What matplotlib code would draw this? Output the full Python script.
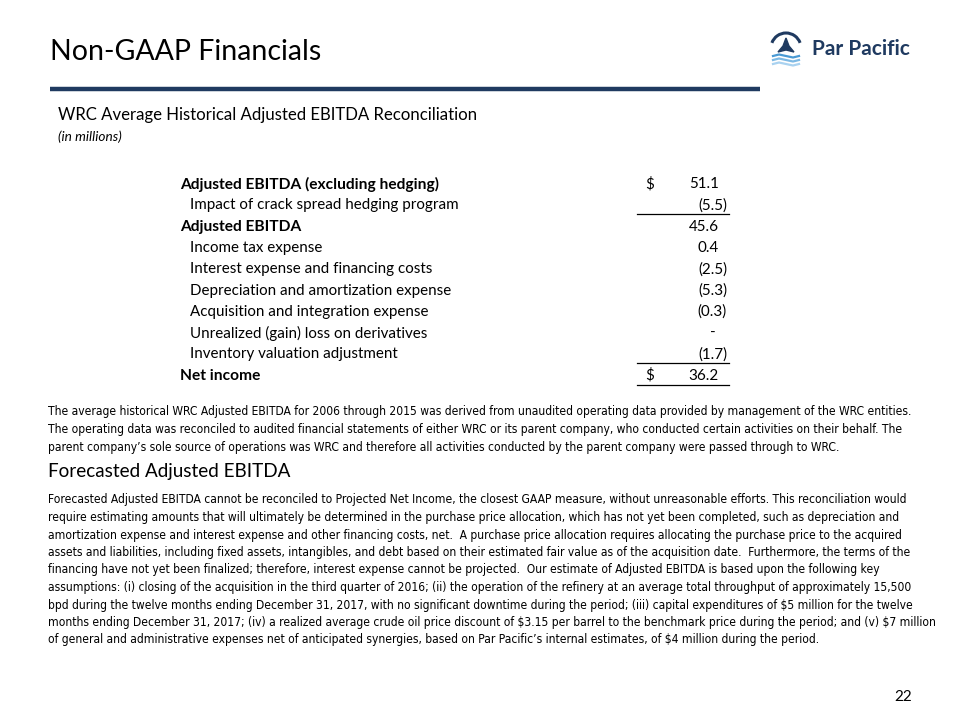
import matplotlib
matplotlib.use("Agg")
import matplotlib.pyplot as plt
import numpy as np
from matplotlib import font_manager
from matplotlib.font_manager import FontProperties
from matplotlib.patches import Arc, Polygon

# --- data ---
row_labels = [
    "Adjusted EBITDA (excluding hedging)",
    "Impact of crack spread hedging program",
    "Adjusted EBITDA",
    "Income tax expense",
    "Interest expense and financing costs",
    "Depreciation and amortization expense",
    "Acquisition and integration expense",
    "Unrealized (gain) loss on derivatives",
    "Inventory valuation adjustment",
    "Net income",
]
row_values = [51.1, -5.5, 45.6, 0.4, -2.5, -5.3, -0.3, None, -1.7, 36.2]
row_bold = [True, False, True, False, False, False, False, False, False, True]
row_dollar = [True, False, False, False, False, False, False, False, False, True]
row_rule_below = [False, True, False, False, False, False, False, False, True, True]

para1 = [
    "The average historical WRC Adjusted EBITDA for 2006 through 2015 was derived from unaudited operating data provided by management of the WRC entities.",
    "The operating data was reconciled to audited financial statements of either WRC or its parent company, who conducted certain activities on their behalf. The",
    "parent company\u2019s sole source of operations was WRC and therefore all activities conducted by the parent company were passed through to WRC.",
]
para1_ends = [912, 898, 835]

para2 = [
    "Forecasted Adjusted EBITDA cannot be reconciled to Projected Net Income, the closest GAAP measure, without unreasonable efforts. This reconciliation would",
    "require estimating amounts that will ultimately be determined in the purchase price allocation, which has not yet been completed, such as depreciation and",
    "amortization expense and interest expense and other financing costs, net.  A purchase price allocation requires allocating the purchase price to the acquired",
    "assets and liabilities, including fixed assets, intangibles, and debt based on their estimated fair value as of the acquisition date.  Furthermore, the terms of the",
    "financing have not yet been finalized; therefore, interest expense cannot be projected.  Our estimate of Adjusted EBITDA is based upon the following key",
    "assumptions: (i) closing of the acquisition in the third quarter of 2016; (ii) the operation of the refinery at an average total throughput of approximately 15,500",
    "bpd during the twelve months ending December 31, 2017, with no significant downtime during the period; (iii) capital expenditures of $5 million for the twelve",
    "months ending December 31, 2017; (iv) a realized average crude oil price discount of $3.15 per barrel to the benchmark price during the period; and (v) $7 million",
    "of general and administrative expenses net of anticipated synergies, based on Par Pacific\u2019s internal estimates, of $4 million during the period.",
]
para2_ends = [908, 899, 877, 897, 888, 910, 912, 925, 782]

# --- fonts ---
plt.rcParams["text.parse_math"] = False
head_font = "Lato"
plt.rcParams["font.family"] = [head_font, "DejaVu Sans"]

body_fp = None
files = {f.fname.split("/")[-1]: f.fname for f in font_manager.fontManager.ttflist}
for cand in ["LiberationSansNarrow-Regular.ttf", "DejaVuSansCondensed.ttf"]:
    if cand in files:
        body_fp = FontProperties(fname=files[cand])
        break
if body_fp is None:
    body_fp = FontProperties(family="Lato")

navy = "#1F3A60"
fig = plt.figure(figsize=(9.6, 7.2), dpi=100)
ax = fig.add_axes([0, 0, 1, 1])
ax.set_xlim(0, 960)
ax.set_ylim(720, 0)
ax.axis("off")
renderer = fig.canvas.get_renderer()


def fit(txt, x, y, right, size=12, ha="left", **kw):
    t = ax.text(x, y, txt, fontsize=size, ha=ha, va="center", **kw)
    w = t.get_window_extent(renderer).width
    t.set_fontsize(size * (right - x) / w)
    return t


def paragraph(lines, ends, x, ytop, step):
    ts = [fit(l, x, ytop + i * step, ends[i], fontproperties=body_fp.copy())
          for i, l in enumerate(lines)]
    s = np.median([t.get_fontsize() for t in ts])
    for t in ts:
        t.set_fontsize(s)


def fmt(v):
    if v is None:
        return "-"
    if v < 0:
        return "(%.1f)" % -v
    return "%.1f" % v


# header
fit("Non-GAAP Financials", 50, 52, 320, family=head_font)
ax.plot([50, 760], [89, 89], color=navy, lw=3.2, solid_capstyle="butt")

# logo
ax.add_patch(Arc((786, 48), 30, 30, theta1=200, theta2=340, color=navy, lw=2.2))
ax.add_patch(Polygon([[778, 52], [783, 46], [786, 38], [789, 46], [794, 52], [786, 50]],
                     closed=True, color=navy))
for dy, c in [(56, "#4A9AD4"), (60, "#7DB9E4"), (64, "#A9D2F0")]:
    ax.plot([773, 779, 786, 793, 799], [dy, dy - 1.5, dy, dy + 1.5, dy], color=c, lw=1.6)
fit("Par Pacific", 812, 49, 910, family=head_font, fontweight="bold", color=navy)

# subtitle
fit("WRC Average Historical Adjusted EBITDA Reconciliation", 58, 115, 475, family=head_font)
fit("(in millions)", 58, 137, 121, family=head_font, style="italic")

# table
y0, dy = 184, 21.3
tb = fit(row_labels[0], 180, y0, 437, family=head_font, fontweight="bold")
tr = fit(row_labels[1], 190, y0 + dy, 455, family=head_font)
bold_size, reg_size = tb.get_fontsize(), tr.get_fontsize()
for i, lab in enumerate(row_labels):
    y = y0 + i * dy
    if i > 1:
        if row_bold[i]:
            ax.text(180, y, lab, fontsize=bold_size, fontweight="bold", va="center", family=head_font)
        else:
            ax.text(190, y, lab, fontsize=reg_size, va="center", family=head_font)
    v = row_values[i]
    xr = 727 if (v is None or v < 0) else 719
    if v is None:
        xr = 716
    ax.text(xr, y, fmt(v), fontsize=reg_size, ha="right", va="center", family=head_font)
    if row_dollar[i]:
        ax.text(645, y, "$", fontsize=reg_size, ha="left", va="center", family=head_font)
    if row_rule_below[i]:
        ax.plot([637, 729], [y + 9, y + 9], color="black", lw=0.9)

# paragraphs
paragraph(para1, para1_ends, 48, 412, 17.6)
fit("Forecasted Adjusted EBITDA", 48, 471, 289, family=head_font)
paragraph(para2, para2_ends, 48, 500, 17.5)

ax.text(912, 697, "22", fontsize=11, ha="right", va="center", family=head_font)

fig.savefig("out.png", dpi=100)
